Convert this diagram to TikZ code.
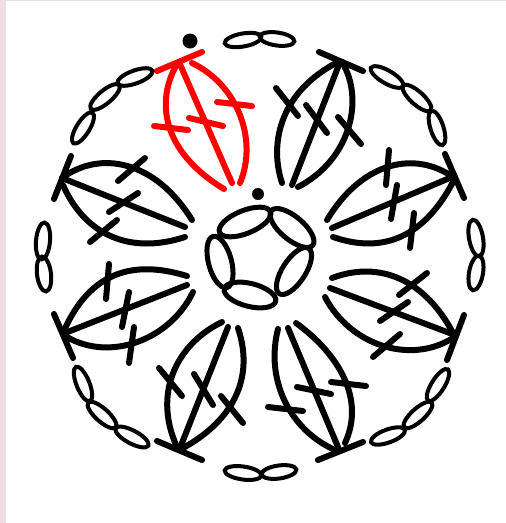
\documentclass[tikz,border=0pt]{standalone}
\definecolor{pinkbg}{HTML}{F0DCE6}
\tikzset{
  st/.style={line width=6pt,line cap=round,line join=round}
}
\newcommand{\ovl}[5]{\draw[line width=#5pt] (#1) ellipse[x radius=#2pt,y radius=#3pt,rotate=-#4];}
\begin{document}
\begin{tikzpicture}[x=1pt,y=-1pt]
\useasboundingbox (0,0) rectangle (506,523);
\fill[pinkbg] (0,0) rectangle (506,523);
\fill[white] (6,1.2) rectangle (506,523);
% red leaf
\begin{scope}[red,st]
\draw (157,71) -- (202,52);
\draw (176,66) .. controls (157,100) and (160,150) .. (224,189);
\draw (179,62) -- (232,183);
\draw (192,63) .. controls (238,85) and (258,140) .. (240,183);
\draw (154,126) -- (188,130);
\draw (189,118) -- (223,126);
\draw (217,102) -- (252,106);
\end{scope}
\begin{scope}[black,st]
% top right
\draw (319,52) -- (363,71);
\draw (282,183) .. controls (268,140) and (283,90) .. (338,62);
\draw (292,185) -- (340,62);
\draw (298,187) .. controls (350,160) and (365,100) .. (342,62);
\draw (276,88) -- (298,116);
\draw (306,105) -- (327,133);
\draw (338,117) -- (361,144);
% right up
\draw (445,154) -- (464,198);
\draw (327,220) .. controls (360,165) and (410,150) .. (450,175);
\draw (332,228) -- (452,177);
\draw (333,237) .. controls (385,255) and (425,235) .. (453,182);
\draw (389,150) -- (386,185);
\draw (397,185) -- (391,219);
\draw (414,213) -- (410,248);
% right down
\draw (464,315) -- (447,360);
\draw (332,278) .. controls (380,260) and (425,280) .. (453,333);
\draw (330,288) -- (455,335);
\draw (325,297) .. controls (350,345) and (410,365) .. (453,338);
\draw (427,273) -- (399,295);
\draw (408,302) -- (380,321);
\draw (400,334) -- (373,357);
% bottom right
\draw (318,460) -- (363,442);
\draw (278,329) .. controls (265,380) and (290,430) .. (335,450);
\draw (288,328) -- (338,447);
\draw (296,323) .. controls (340,355) and (365,400) .. (345,443);
\draw (268,407) -- (303,411);
\draw (297,387) -- (331,394);
\draw (331,382) -- (366,386);
% bottom left
\draw (157,441) -- (202,460);
\draw (222,322) .. controls (175,345) and (153,395) .. (177,447);
\draw (180,448) -- (228,327);
\draw (238,328) .. controls (257,385) and (225,425) .. (183,448);
\draw (159,368) -- (182,396);
\draw (194,374) -- (213,405);
\draw (221,396) -- (243,423);
% left down
\draw (54,314) -- (73,358);
\draw (187,276) .. controls (135,260) and (90,270) .. (63,333);
\draw (187,285) -- (65,333);
\draw (193,292) .. controls (170,340) and (110,362) .. (67,337);
\draw (109,264) -- (106,299);
\draw (129,292) -- (122,327);
\draw (134,327) -- (129,363);
% left up
\draw (71,156) -- (54,199);
\draw (192,220) .. controls (155,160) and (100,150) .. (62,178);
\draw (62,178) -- (185,227);
\draw (185,237) .. controls (130,255) and (85,235) .. (63,185);
\draw (145,158) -- (118,181);
\draw (138,193) -- (109,212);
\draw (117,220) -- (90,242);
\end{scope}
% chain ovals
\ovl{243,40}{18.5}{6.5}{-10}{4}
\ovl{277,39}{17.5}{6.5}{8}{4}
\ovl{387,77}{18.5}{6.5}{30}{4}
\ovl{417,98}{18.5}{6.5}{42}{4}
\ovl{437,128}{18}{6.5}{72}{4}
\ovl{476,238}{18.5}{7}{80}{4}
\ovl{476,273}{17.5}{7}{-80}{4}
\ovl{388,436}{18}{6.5}{-20}{4}
\ovl{418,415}{18.5}{6.5}{-42}{4}
\ovl{438,385}{18.5}{6.5}{-58}{4}
\ovl{243,473}{18.5}{6.5}{8}{4}
\ovl{279,472}{17.5}{6.5}{-8}{4}
\ovl{83,384}{18.5}{6.5}{68}{4}
\ovl{102,415}{18.5}{6.5}{42}{4}
\ovl{132,437}{18.5}{6.5}{28}{4}
\ovl{43,241}{18.5}{7}{-85}{4}
\ovl{44,274}{17.5}{7}{83}{4}
\ovl{135,77}{18.5}{6.5}{-20}{4}
\ovl{105,97}{18.5}{6.5}{-40}{4}
\ovl{83,128}{18}{6.5}{-58}{4}
% centre ring
\ovl{245,222}{27.5}{11.5}{-22}{5}
\ovl{292,228}{27}{11.5}{40}{5}
\ovl{294,271}{27}{11.5}{-57}{5}
\ovl{250,295}{26.5}{11.5}{14}{5}
\ovl{220,262}{26.5}{11.5}{75}{5}
% dots
\fill (190,41) circle[radius=7.5pt];
\fill (258,194) circle[radius=6pt];
\end{tikzpicture}
\end{document}
